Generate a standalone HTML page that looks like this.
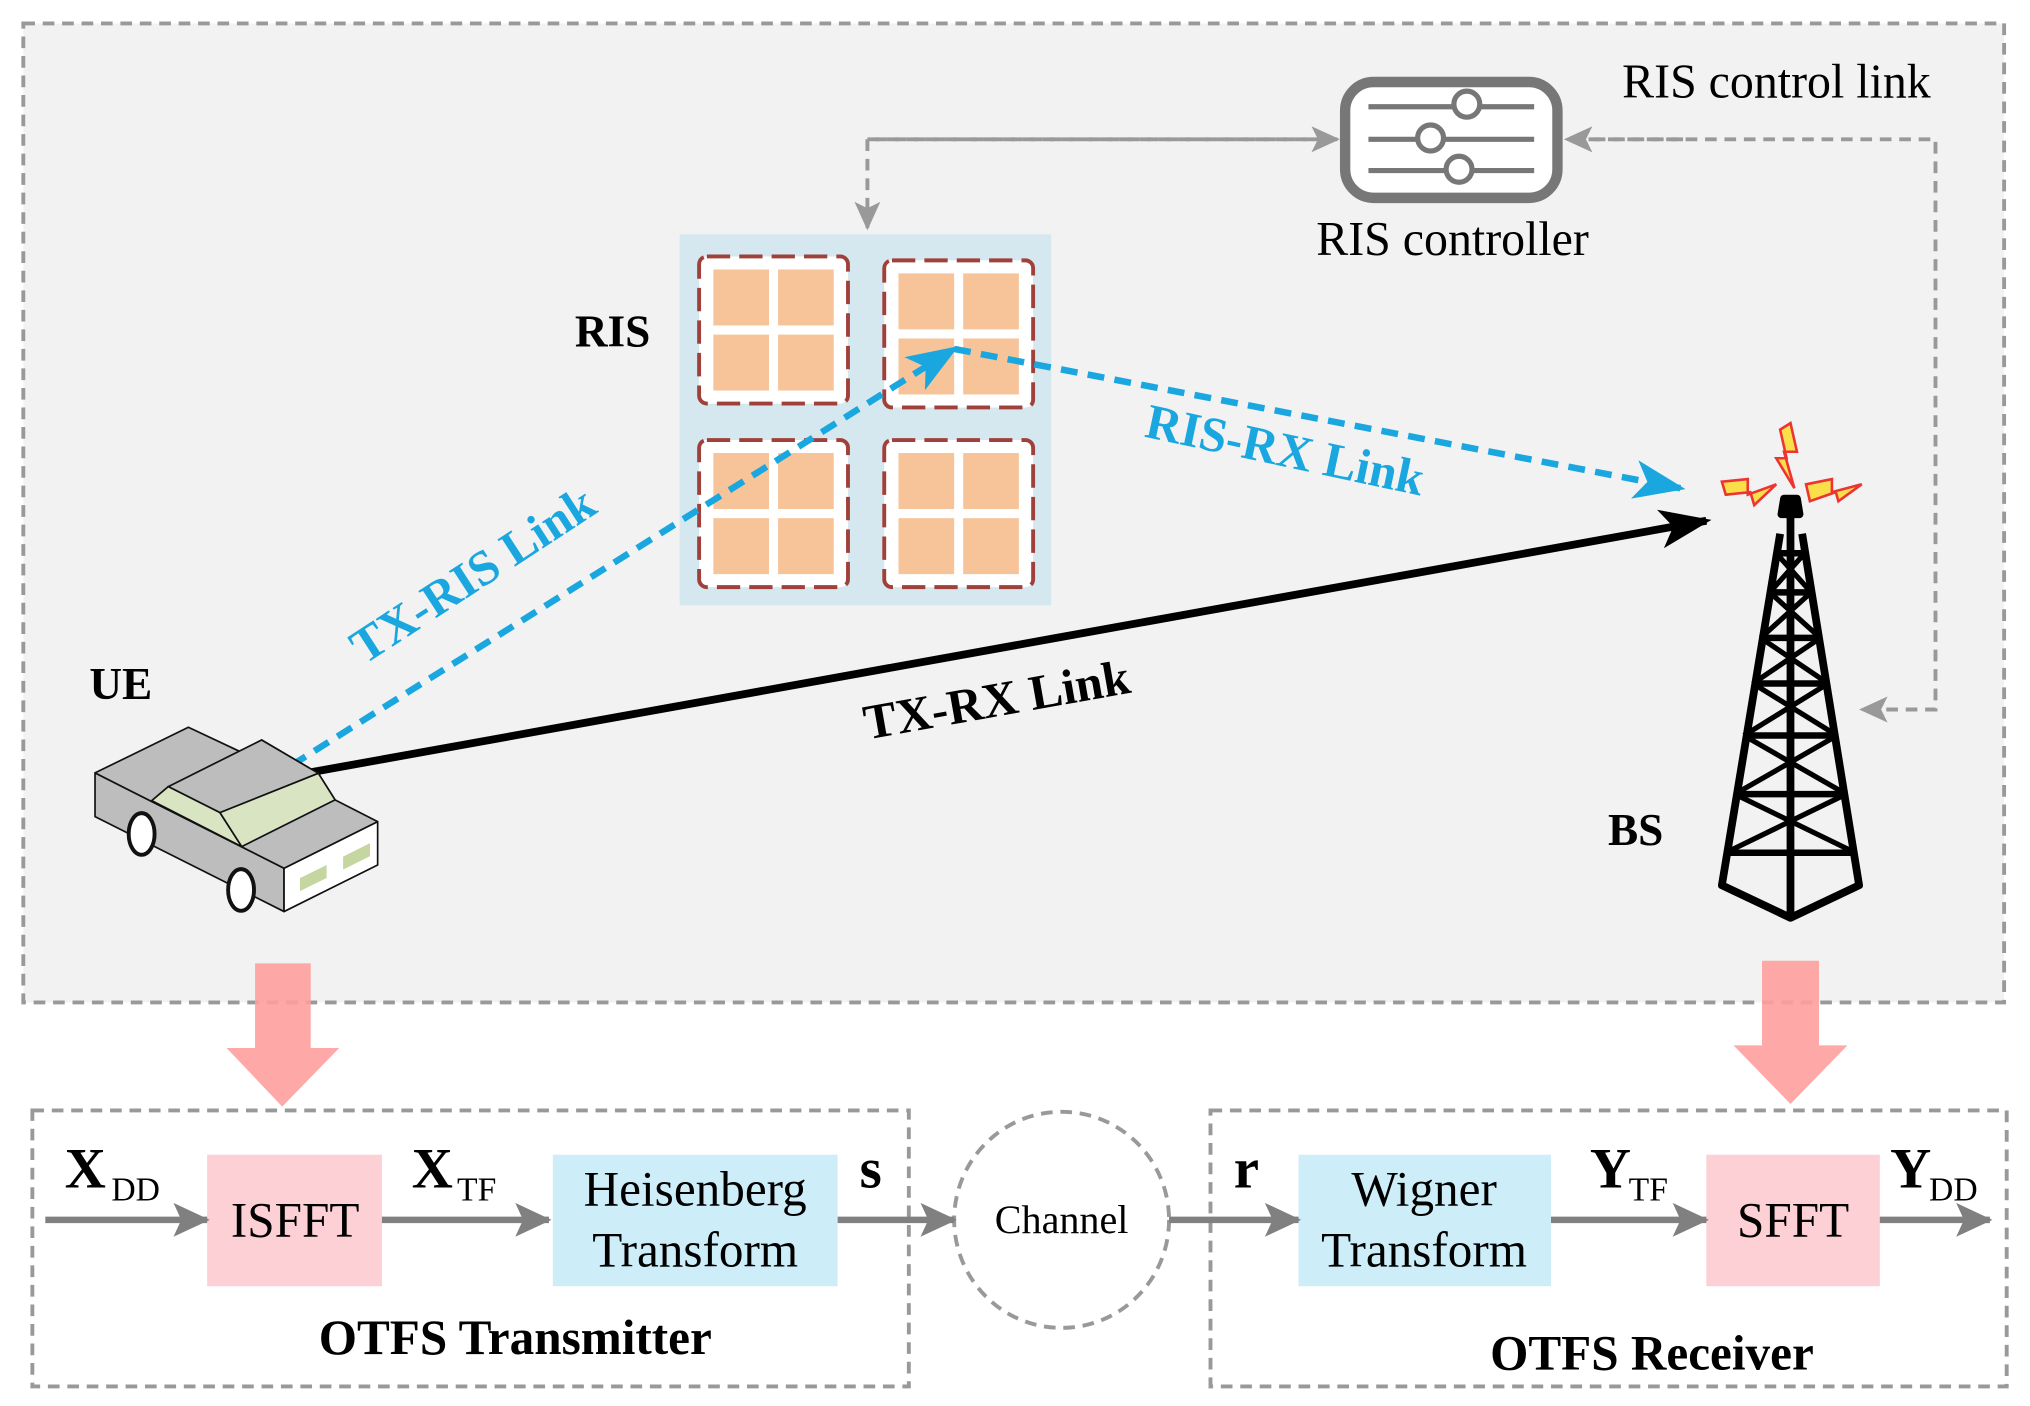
<!DOCTYPE html>
<html><head><meta charset="utf-8"><style>html,body{margin:0;padding:0;background:#fff}svg{display:block}</style></head>
<body>
<svg width="2030" height="1406" viewBox="0 0 1568 1080" preserveAspectRatio="none" xmlns="http://www.w3.org/2000/svg" font-family="'Liberation Serif', serif">
<defs>
<marker id="ab" markerWidth="40" markerHeight="30" refX="36" refY="15" orient="auto" markerUnits="userSpaceOnUse"><path d="M0,0 L40,15 L0,30 L10,15 Z" fill="#1aa7e0"/></marker>
<marker id="ak" markerWidth="40" markerHeight="30" refX="36" refY="15" orient="auto" markerUnits="userSpaceOnUse"><path d="M0,0 L40,15 L0,30 L10,15 Z" fill="#000"/></marker>
<marker id="ar" markerWidth="28" markerHeight="26" refX="26" refY="13" orient="auto" markerUnits="userSpaceOnUse"><path d="M0,0 L28,13 L0,26 L6,13 Z" fill="#808080"/></marker>
<marker id="as" markerWidth="22" markerHeight="20" refX="20" refY="10" orient="auto" markerUnits="userSpaceOnUse"><path d="M0,0 L22,10 L0,20 L5,10 Z" fill="#999"/></marker>
</defs>
<rect x="18" y="18" width="1530" height="752" fill="#f2f2f2" stroke="#999" stroke-width="3" stroke-dasharray="9,6"/>
<!-- RIS -->
<rect x="525" y="180" width="287" height="285" fill="#d5e8ef"/>
<g id="tile">
<rect x="540" y="197" width="115" height="113" rx="6" fill="#fff" stroke="#a0403a" stroke-width="3" stroke-dasharray="18,7"/>
<rect x="551" y="207" width="43" height="43" fill="#f7c49a"/><rect x="601" y="207" width="43" height="43" fill="#f7c49a"/>
<rect x="551" y="257" width="43" height="43" fill="#f7c49a"/><rect x="601" y="257" width="43" height="43" fill="#f7c49a"/>
</g>
<use href="#tile" x="143" y="3"/><use href="#tile" x="0" y="141"/><use href="#tile" x="143" y="141"/>
<text x="444" y="266" font-size="35" font-weight="bold">RIS</text>
<!-- controller -->
<rect x="1039" y="63" width="164" height="89" rx="22" fill="#fff" stroke="#777" stroke-width="8"/>
<g stroke="#777" stroke-width="4" fill="#fff">
<line x1="1057" y1="82" x2="1185" y2="82"/><line x1="1057" y1="107" x2="1185" y2="107"/><line x1="1057" y1="131" x2="1185" y2="131"/>
<circle cx="1133" cy="80" r="10"/><circle cx="1105" cy="106" r="10"/><circle cx="1127" cy="130" r="10"/></g>
<text x="1122" y="196" font-size="37" text-anchor="middle">RIS controller</text>
<text x="1253" y="75" font-size="37">RIS control link</text>
<g stroke="#999" stroke-width="3" stroke-dasharray="9,6" fill="none">
<path d="M1030,107 H670 V175" marker-end="url(#as)"/>
<path d="M670,107 H1033" marker-end="url(#as)"/>
<path d="M1212,107 H1495 V545 H1438" marker-end="url(#as)"/>
<path d="M1300,107 H1210" marker-end="url(#as)"/>
</g>
<!-- links -->
<line x1="230" y1="595" x2="1318" y2="400" stroke="#000" stroke-width="6" marker-end="url(#ak)"/>
<line x1="225" y1="588" x2="737" y2="268" stroke="#1aa7e0" stroke-width="5" stroke-dasharray="13,8" marker-end="url(#ab)"/>
<line x1="737" y1="268" x2="1298" y2="375" stroke="#1aa7e0" stroke-width="5" stroke-dasharray="13,8" marker-end="url(#ab)"/>
<text transform="translate(372,452) rotate(-33)" font-size="38" font-weight="bold" fill="#1aa7e0" text-anchor="middle">TX-RIS Link</text>
<text transform="translate(990,358) rotate(12)" font-size="38" font-weight="bold" fill="#1aa7e0" text-anchor="middle">RIS-RX Link</text>
<text transform="translate(772,550) rotate(-10)" font-size="38" font-weight="bold" text-anchor="middle">TX-RX Link</text>
<text x="69" y="537" font-size="35" font-weight="bold">UE</text>
<text x="1242" y="649" font-size="35" font-weight="bold">BS</text>
<!-- car -->
<g stroke="#111" stroke-width="1.3" stroke-linejoin="round">
<path d="M73.4,593.7 L219.4,666.9 L219.4,700.2 L73.4,627.3 Z" fill="#bdbdbd"/>
<path d="M219.4,666.9 L291.7,631.1 L291.7,664.4 L219.4,700.2 Z" fill="#fff"/>
<path d="M73.4,593.7 L145.5,558.6 L185.4,577.3 L202.1,568.4 L245.9,594 L258.8,614.4 L291.7,631.1 L219.4,666.9 Z" fill="#bdbdbd"/>
<path d="M130,604.2 L202.1,568.4 L245.9,594 L169.9,624.2 Z" fill="#bdbdbd"/>
<path d="M117.2,615 L130,604.2 L169.9,624.2 L186.7,650.3 Z" fill="#d8e4c2"/>
<path d="M169.9,624.2 L245.9,594 L258.8,614.4 L186.7,650.3 Z" fill="#d8e4c2"/>
<ellipse cx="109.4" cy="640.6" rx="10" ry="16" fill="#fff" stroke-width="3"/>
<ellipse cx="186.2" cy="683.6" rx="10" ry="16" fill="#fff" stroke-width="3"/>
<path d="M231.7,674.5 L252.3,664.4 L252.3,674.4 L231.7,684.5 Z" fill="#c5d6a0" stroke="none"/>
<path d="M265,658 L285.8,647.6 L285.8,657.6 L265,668 Z" fill="#c5d6a0" stroke="none"/>
</g>
<!-- tower -->
<g stroke="#000" stroke-width="6" fill="none" stroke-linejoin="round">
<path d="M1375,410 L1330,680 L1383,705 L1436,680 L1392,410"/>
<path d="M1383,395 L1383,705"/>
<path d="M1376,395 H1390 L1388,383 L1378,383 Z" fill="#000"/>
<path d="M1372,425 H1394 M1367,455 H1399 M1360,490 H1406 M1354,525 H1412 M1347,565 H1419 M1340,610 H1426 M1333,655 H1433" stroke-width="5"/>
<path d="M1372,425 L1399,455 M1394,425 L1367,455 M1367,455 L1406,490 M1399,455 L1360,490 M1360,490 L1412,525 M1406,490 L1354,525 M1354,525 L1419,565 M1412,525 L1347,565 M1347,565 L1426,610 M1419,565 L1340,610 M1340,610 L1433,655 M1426,610 L1333,655" stroke-width="4"/>
</g>
<g fill="#f9e04a" stroke="#e33" stroke-width="2">
<path d="M1383,325 L1388,347 L1378,347 L1386,375 L1372,352 L1380,352 L1375,330 Z"/>
<path d="M1330,370 L1350,368 L1350,380 L1372,372 L1355,388 L1352,378 L1333,380 Z"/>
<path d="M1395,372 L1415,368 L1415,378 L1438,372 L1420,385 L1418,378 L1398,385 Z"/>
</g>
<!-- pink arrows -->
<path d="M197,740 H240 V805 H262 L218,850 L175,805 H197 Z" fill="#ff9e9e" opacity="0.9"/>
<path d="M1361,738 H1405 V803 H1427 L1383,848 L1339,803 H1361 Z" fill="#ff9e9e" opacity="0.9"/>
<!-- bottom boxes -->
<rect x="25" y="853" width="677" height="212" fill="none" stroke="#999" stroke-width="3" stroke-dasharray="9,6"/>
<rect x="935" y="853" width="615" height="212" fill="none" stroke="#999" stroke-width="3" stroke-dasharray="9,6"/>
<rect x="160" y="887" width="135" height="101" fill="#fcd0d4"/>
<rect x="427" y="887" width="220" height="101" fill="#cdeef8"/>
<rect x="1003" y="887" width="195" height="101" fill="#cdeef8"/>
<rect x="1318" y="887" width="134" height="101" fill="#fcd0d4"/>
<circle cx="820" cy="937" r="83" fill="#fff" stroke="#999" stroke-width="3" stroke-dasharray="9,6"/>
<g stroke="#808080" stroke-width="5">
<line x1="35" y1="937" x2="160" y2="937" marker-end="url(#ar)"/>
<line x1="295" y1="937" x2="424" y2="937" marker-end="url(#ar)"/>
<line x1="647" y1="937" x2="737" y2="937" marker-end="url(#ar)"/>
<line x1="903" y1="937" x2="1003" y2="937" marker-end="url(#ar)"/>
<line x1="1198" y1="937" x2="1318" y2="937" marker-end="url(#ar)"/>
<line x1="1452" y1="937" x2="1537" y2="937" marker-end="url(#ar)"/>
</g>
<g font-size="38" text-anchor="middle">
<text x="228" y="950">ISFFT</text>
<text x="537" y="926">Heisenberg</text><text x="537" y="973">Transform</text>
<text x="1100" y="926">Wigner</text><text x="1100" y="973">Transform</text>
<text x="1385" y="950">SFFT</text>
</g>
<text x="820" y="947" font-size="31" text-anchor="middle">Channel</text>
<g font-weight="bold" font-size="44">
<text x="50" y="912">X</text><text x="318" y="912">X</text><text x="664" y="912">s</text>
<text x="953" y="912">r</text><text x="1228" y="912">Y</text><text x="1460" y="912">Y</text>
</g>
<g font-size="26">
<text x="86" y="922">DD</text><text x="353" y="922">TF</text><text x="1258" y="922">TF</text><text x="1490" y="922">DD</text>
</g>
<text x="398" y="1040" font-size="38" font-weight="bold" text-anchor="middle">OTFS Transmitter</text>
<text x="1276" y="1052" font-size="38" font-weight="bold" text-anchor="middle">OTFS Receiver</text>
</svg>
</body></html>
